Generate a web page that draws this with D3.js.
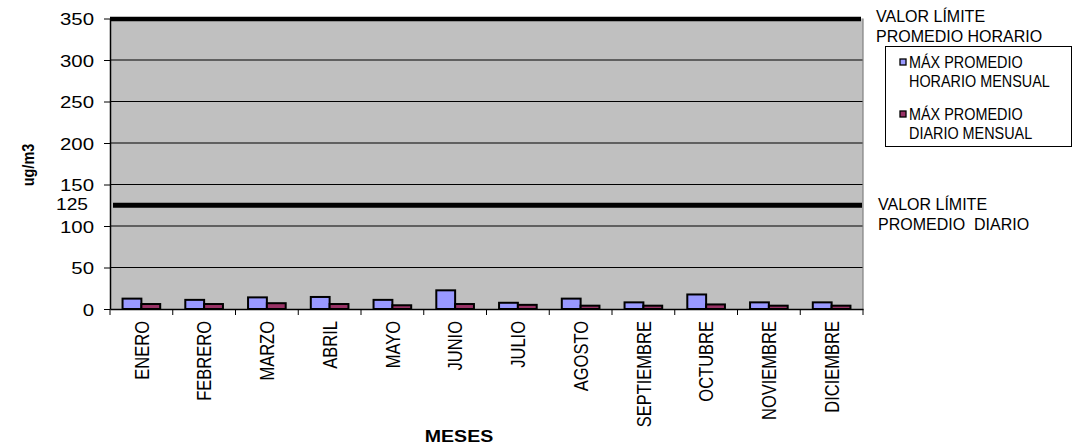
<!DOCTYPE html>
<html>
<head>
<meta charset="utf-8">
<script src="https://cdn.jsdelivr.net/npm/d3@7"></script>
<style>
  html, body { margin: 0; padding: 0; background: #ffffff; }
  svg { display: block; font-family: "Liberation Sans", Arial, sans-serif; }
</style>
</head>
<body>
<svg id="chart" width="1073" height="447"></svg>
<script>
// Monthly maxima (ug/m3)
const months = ["ENERO", "FEBRERO", "MARZO", "ABRIL", "MAYO", "JUNIO", "JULIO",
  "AGOSTO", "SEPTIEMBRE", "OCTUBRE", "NOVIEMBRE", "DICIEMBRE"];
const hourlyMax = [12.5, 11, 14, 14.5, 11, 22.5, 7.5, 12.5, 8, 17.5, 8, 8];
const dailyMax = [6, 6, 7, 6, 4.5, 6, 5, 4, 4, 5.5, 4, 4];
const seriesNames = ["MÁX PROMEDIO HORARIO MENSUAL", "MÁX PROMEDIO DIARIO MENSUAL"];
const seriesColors = ["#9999ff", "#993366"];
const yTicks = [0, 50, 100, 150, 200, 250, 300, 350];
const limitHourly = 350;
const limitDaily = 125;

const svg = d3.select("#chart");
const plotLeft = 110, plotRight = 863, plotTop = 18.5, plotBottom = 309;
const SX = 1.2; // horizontal text stretch on the axis labels

const x0 = d3.scaleBand().domain(months).range([plotLeft, plotRight]).padding(0);
const x1 = d3.scaleBand().domain([0, 1])
  .range([x0.bandwidth() * 0.2, x0.bandwidth() * 0.8]).padding(0);
const y = d3.scaleLinear().domain([0, 350]).range([plotBottom, plotTop]);

// plot background
svg.append("rect").attr("x", plotLeft).attr("y", y(350))
  .attr("width", plotRight - plotLeft).attr("height", y(0) - y(350))
  .attr("fill", "#c0c0c0");

// gridlines
svg.append("g").selectAll("line").data(yTicks.filter(v => v > 0 && v < 350))
  .join("line")
  .attr("x1", plotLeft).attr("x2", plotRight)
  .attr("y1", d => y(d)).attr("y2", d => y(d))
  .attr("stroke", "#000").attr("stroke-width", 1);

// right edge of plot
svg.append("line").attr("x1", plotRight).attr("x2", plotRight)
  .attr("y1", y(350)).attr("y2", y(0)).attr("stroke", "#808080").attr("stroke-width", 1.2);

// bars
const groups = svg.append("g").selectAll("g").data(months).join("g")
  .attr("transform", d => `translate(${x0(d)},0)`);
groups.selectAll("rect")
  .data((m, i) => [hourlyMax[i], dailyMax[i]])
  .join("rect")
  .attr("x", (d, j) => x1(j))
  .attr("y", d => y(d))
  .attr("width", x1.bandwidth())
  .attr("height", d => y(0) - y(d))
  .attr("fill", (d, j) => seriesColors[j])
  .attr("stroke", "#000").attr("stroke-width", 2);

// limit lines
svg.append("line").attr("x1", plotLeft).attr("x2", plotRight - 2)
  .attr("y1", y(limitHourly) + 0.5).attr("y2", y(limitHourly) + 0.5)
  .attr("stroke", "#000").attr("stroke-width", 4.5);
svg.append("line").attr("x1", plotLeft + 3).attr("x2", plotRight - 1)
  .attr("y1", y(limitDaily)).attr("y2", y(limitDaily))
  .attr("stroke", "#000").attr("stroke-width", 5);

// y axis
const yAxis = svg.append("g").attr("transform", `translate(${plotLeft},0)`)
  .call(d3.axisLeft(y).tickValues(yTicks).tickSize(6).tickSizeOuter(0).tickFormat(d3.format("d")));
yAxis.select(".domain").attr("stroke", "#000").attr("stroke-width", 1.5);
yAxis.selectAll(".tick line").attr("stroke", "#000").attr("stroke-width", 1);
yAxis.selectAll(".tick text")
  .attr("x", -16 / SX).attr("dy", "0.36em")
  .attr("transform", `scale(${SX},1)`)
  .attr("font-size", 17).attr("font-family", "Liberation Sans, Arial, sans-serif")
  .attr("fill", "#000");

// extra label for the daily limit value
svg.append("text")
  .attr("transform", `translate(88,${y(limitDaily) - 1.5}) scale(${SX},1)`)
  .attr("text-anchor", "end").attr("dy", "0.36em")
  .attr("font-size", 16).attr("fill", "#000").text(limitDaily);

// x axis
const xAxis = svg.append("g").attr("transform", `translate(0,${plotBottom})`)
  .call(d3.axisBottom(x0).tickSize(0).tickSizeOuter(0));
xAxis.select(".domain").attr("stroke", "#000").attr("stroke-width", 1.5);
xAxis.selectAll(".tick text")
  .attr("y", null).attr("dy", null)
  .attr("transform", `scale(${SX},1) rotate(-90)`)
  .attr("x", -12).attr("dy", "0.36em")
  .attr("text-anchor", "end")
  .attr("font-size", 16.5).attr("font-family", "Liberation Sans, Arial, sans-serif")
  .attr("fill", "#000");
// category boundary ticks
const bounds = months.map(m => x0(m)).concat([plotRight]);
svg.append("g").selectAll("line").data(bounds).join("line")
  .attr("x1", d => d).attr("x2", d => d)
  .attr("y1", plotBottom).attr("y2", plotBottom + 6)
  .attr("stroke", "#000").attr("stroke-width", 1);

// axis titles
svg.append("text")
  .attr("transform", `translate(34,165) scale(${SX},1) rotate(-90)`)
  .attr("text-anchor", "middle").attr("font-weight", "bold")
  .attr("font-size", 14.5).attr("fill", "#000").text("ug/m3");
svg.append("text")
  .attr("transform", `translate(459,442) scale(1.15,1)`)
  .attr("text-anchor", "middle").attr("font-weight", "bold")
  .attr("font-size", 17).attr("fill", "#000").text("MESES");

// limit line captions
const captions = [
  { x: 876, y: 22, lines: ["VALOR LÍMITE", "PROMEDIO HORARIO"] },
  { x: 878, y: 210, lines: ["VALOR LÍMITE", "PROMEDIO  DIARIO"] }
];
captions.forEach(c => {
  const t = svg.append("text").attr("font-size", 16).attr("fill", "#000")
    .style("white-space", "pre");
  c.lines.forEach((l, i) => t.append("tspan").attr("x", c.x).attr("y", c.y + i * 20).text(l));
});

// legend
const legend = svg.append("g");
legend.append("rect").attr("x", 885.5).attr("y", 46.5).attr("width", 186).attr("height", 100)
  .attr("fill", "#fff").attr("stroke", "#000").attr("stroke-width", 1);
const legendLines = [["MÁX PROMEDIO", "HORARIO MENSUAL"], ["MÁX PROMEDIO", "DIARIO MENSUAL"]];
legendLines.forEach((lines, i) => {
  const yb = 68 + i * 52;
  legend.append("rect").attr("x", 900).attr("y", yb - 9).attr("width", 6).attr("height", 6)
    .attr("fill", seriesColors[i]).attr("stroke", "#000").attr("stroke-width", 1.3);
  lines.forEach((l, k) => {
    legend.append("text")
      .attr("transform", `translate(909,${yb + k * 19}) scale(0.9,1)`)
      .attr("font-size", 16).attr("fill", "#000").text(l);
  });
});
</script>
</body>
</html>
